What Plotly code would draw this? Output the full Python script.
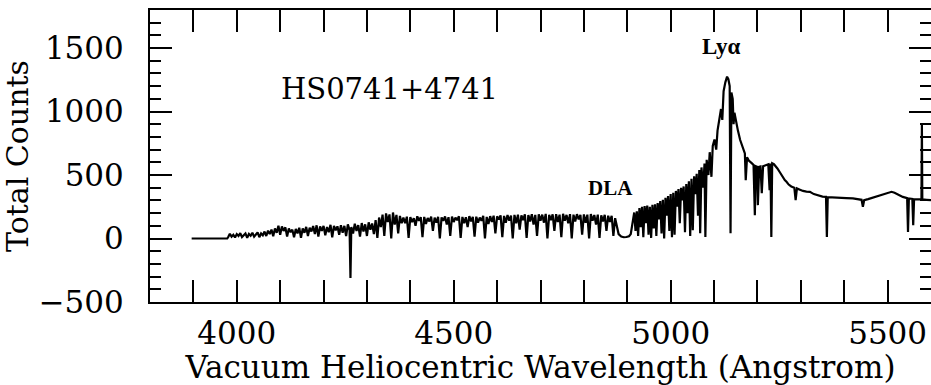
import plotly.graph_objects as go

# ---- Spectrum (wavelength in Angstrom, total counts) ----
WAVE_FLAT = [3896, 3978]
COUNTS_FLAT = [0, 0]

WAVE_BLUE = [
    3980, 3984, 3988, 3992, 3996, 4000, 4004, 4008, 4012, 4016, 4020, 4024, 4028, 4032, 4036, 4040,
    4044, 4048, 4052, 4056, 4060,
    4064, 4068, 4072, 4076, 4080, 4084, 4088, 4092, 4096, 4100,
    4104, 4108, 4112, 4116, 4120, 4124, 4128, 4132, 4136, 4140, 4144, 4148, 4152, 4156, 4160,
    4164, 4168, 4172, 4176, 4180, 4184, 4188, 4192, 4196, 4200, 4204, 4208, 4212, 4216, 4220, 4224,
    4228, 4232, 4236, 4240, 4244, 4248, 4252, 4256, 4260,
    4262,
    4264, 4268, 4272, 4276, 4280, 4284, 4288, 4292, 4296, 4300, 4304, 4308, 4312, 4316, 4320, 4324,
    4328, 4332, 4336, 4340, 4344, 4348, 4352, 4356, 4360, 4364, 4368, 4372, 4376, 4380,
]
COUNTS_BLUE = [
    10, 38, 15, 30, 8, 35, 20, 42, 12, 28, 40, 5, 36, 22, 45, 15,
    30, 48, 10, 40, 25,
    55, 20, 62, 35, 70, 18, 80, 45, 100, 30,
    95, 60, 88, 15, 80, 50, 70, 10, 75, 40, 85, 5, 80, 45, 92,
    20, 85, 55, 98, 35, 104, 15, 95, 60, 100, 25, 90, 50, 108, 10, 100,
    65, 96, 30, 105, 45, 100, 20, 112, 65,
    -310,
    90, 40, 116, 60, 105, 15, 122, 55, 112, 20, 128, 70, 118, 35, 145, 5,
    165, 90, 188, 20, 198, 130, 190, 0, 205, 110, 186, 40, 178, 120,
]

WAVE_FOREST = [
    4384, 4388, 4392, 4396, 4400, 4404, 4408, 4412, 4416, 4420,
    4424, 4428, 4432, 4436, 4440, 4444, 4448, 4452, 4456, 4460,
    4464, 4468, 4472, 4476, 4480, 4484, 4488, 4492, 4496, 4500,
    4504, 4508, 4512, 4516, 4520, 4524, 4528, 4532, 4536, 4540,
    4544, 4548, 4552, 4556, 4560, 4564, 4568, 4572, 4576, 4580,
    4584, 4588, 4592, 4596, 4600, 4604, 4608, 4612, 4616, 4620,
    4624, 4628, 4632, 4636, 4640, 4644, 4648, 4652, 4656, 4660,
    4664, 4668, 4672, 4676, 4680, 4684, 4688, 4692, 4696, 4700,
    4704, 4708, 4712, 4716, 4720, 4724, 4728, 4732, 4736, 4740,
    4744, 4748, 4752, 4756, 4760, 4764, 4768, 4772, 4776, 4780,
    4784, 4788, 4792, 4796, 4800, 4804, 4808, 4812, 4816, 4820,
    4824, 4828, 4832, 4836, 4840, 4844, 4848, 4852, 4856, 4860,
    4864, 4868, 4872, 4876, 4880,
]
COUNTS_FOREST = [
    165, 120, 172, 5, 168, 130, 160, 100, 175, 140,
    168, 10, 170, 115, 162, 135, 172, 60, 165, 125,
    170, 0, 166, 140, 174, 110, 168, 20, 172, 130,
    165, 145, 175, 5, 170, 120, 168, 90, 176, 135,
    170, 15, 172, 125, 165, 140, 178, 0, 170, 115,
    176, 130, 180, 40, 175, 150, 182, 10, 178, 125,
    185, 140, 180, 0, 186, 120, 188, 70, 182, 145,
    190, 5, 185, 135, 192, 110, 186, 20, 190, 140,
    188, 125, 194, 0, 186, 145, 190, 60, 192, 130,
    188, 10, 195, 140, 186, 120, 192, 0, 188, 135,
    192, 150, 186, 30, 190, 125, 188, 0, 192, 140,
    185, 110, 188, 5, 182, 135, 186, 60, 180, 130,
    178, 20, 160, 90, 35,
]

WAVE_DLA = [4886, 4892, 4898, 4904, 4908, 4912]
COUNTS_DLA = [15, 10, 12, 18, 35, 110]

WAVE_LYA = [
    4916, 4919, 4922, 4925, 4928, 4931, 4934, 4937, 4940, 4943, 4946, 4949, 4952, 4955, 4958, 4961,
    4964, 4967, 4970, 4973, 4976, 4979, 4982, 4985, 4988, 4991, 4994, 4997, 5000, 5003, 5006, 5009,
    5012, 5015, 5018, 5021, 5024, 5027, 5030, 5033, 5036, 5039, 5042, 5045, 5048, 5051, 5054, 5057,
    5060, 5063, 5066, 5068, 5071, 5075, 5078, 5080, 5083, 5087, 5090, 5094, 5097, 5101, 5105, 5108,
    5112, 5116, 5119, 5122, 5126, 5130, 5133, 5136, 5138, 5140, 5143, 5145, 5147, 5150, 5155, 5160,
    5165, 5171, 5173, 5176, 5180, 5184, 5188, 5191, 5194, 5196, 5199, 5201, 5204, 5207, 5210, 5213,
    5217, 5221, 5225, 5228, 5230, 5232, 5234, 5238, 5242, 5246, 5252, 5258, 5263, 5267, 5272, 5278,
    5285, 5288, 5291, 5298, 5305, 5313, 5321, 5330, 5340, 5350, 5358, 5360, 5362, 5375, 5390, 5405,
    5420, 5432, 5440, 5443, 5446, 5455, 5465, 5474, 5485, 5495, 5503, 5509, 5516, 5525, 5535, 5545,
    5547, 5549, 5557, 5559, 5561, 5570, 5578, 5579, 5580, 5590, 5600,
]
COUNTS_LYA = [
    205, 60, 215, 20, 240, 90, 250, 10, 255, 120, 260, 30, 250, 5, 265, 80,
    270, 20, 280, 150, 295, 40, 305, 0, 320, 180, 335, 60, 350, 10, 360, 30,
    375, 250, 390, 120, 400, 300, 410, 50, 430, 200, 450, 20, 470, 65, 490, 350,
    510, 180, 540, 42, 560, 400, 590, 13, 620, 500, 680, 486, 730, 780, 700, 850,
    930, 1020, 934, 1160, 1230, 1275, 1255, 1200, 42, 1150, 1100, 900, 990, 930, 850, 778,
    720, 671, 460, 640, 615, 605, 590, 580, 184, 570, 565, 263, 565, 568, 357, 570,
    575, 579, 585, 380, 590, 13, 592, 585, 570, 552, 520, 485, 460, 447, 425, 410,
    400, 302, 395, 385, 375, 370, 368, 350, 338, 330, 328, 13, 326, 322, 320, 318,
    316, 310, 305, 250, 302, 310, 320, 328, 340, 355, 362, 368, 360, 345, 328, 318,
    52, 315, 312, 105, 310, 308, 308, 894, 308, 305, 302,
]

X_TICKS = [4000, 4500, 5000, 5500]
Y_TICKS = [-500, 0, 500, 1000, 1500]
X_RANGE = [3800, 5600]
Y_RANGE = [-500, 1800]

LABEL_TEXT = ["HS0741+4741", "Lyα", "DLA"]
LABEL_X = [4351, 5118, 4862]
LABEL_Y = [1176, 1516, 401]

WAVELENGTH = WAVE_FLAT + WAVE_BLUE + WAVE_FOREST + WAVE_DLA + WAVE_LYA
COUNTS = COUNTS_FLAT + COUNTS_BLUE + COUNTS_FOREST + COUNTS_DLA + COUNTS_LYA

SERIF = "DejaVu Serif, serif"
BOLD_SERIF = "Liberation Serif, Times New Roman, serif"

fig = go.Figure()
fig.add_trace(go.Scatter(
    x=WAVELENGTH, y=COUNTS, mode="lines",
    line=dict(color="black", width=2.2),
    showlegend=False, hoverinfo="skip",
))
# invisible anchor so that the right-hand tick axis is drawn
fig.add_trace(go.Scatter(
    x=X_RANGE, y=Y_RANGE, yaxis="y2", mode="markers",
    marker=dict(opacity=0), showlegend=False, hoverinfo="skip",
))

fig.add_annotation(x=LABEL_X[0], y=LABEL_Y[0], text=LABEL_TEXT[0], showarrow=False,
                   font=dict(family=SERIF, size=29, color="black"))
fig.add_annotation(x=LABEL_X[1], y=LABEL_Y[1], text="<b>" + LABEL_TEXT[1] + "</b>", showarrow=False,
                   font=dict(family=BOLD_SERIF, size=23, color="black"))
fig.add_annotation(x=LABEL_X[2], y=LABEL_Y[2], text="<b>" + LABEL_TEXT[2] + "</b>", showarrow=False,
                   font=dict(family=BOLD_SERIF, size=21, color="black"))

tick_style = dict(ticks="inside", ticklen=22, tickwidth=2, tickcolor="black",
                  showgrid=False, zeroline=False)

fig.update_layout(
    width=931, height=385,
    margin=dict(l=150, r=0, t=10, b=83),
    paper_bgcolor="white", plot_bgcolor="white",
    xaxis=dict(
        range=X_RANGE, tickvals=X_TICKS, ticklabelstandoff=3,
        showline=True, linecolor="black", linewidth=2, mirror="allticks",
        tickfont=dict(family=SERIF, size=31, color="black"),
        minor=dict(dtick=100, ticks="inside", ticklen=12, tickwidth=2, tickcolor="black", showgrid=False),
        title=dict(text="Vacuum Heliocentric Wavelength (Angstrom)",
                   font=dict(family=SERIF, size=31, color="black"), standoff=3),
        **tick_style,
    ),
    yaxis=dict(
        range=Y_RANGE, tickvals=Y_TICKS, ticklabelstandoff=18,
        showline=True, linecolor="black", linewidth=2, mirror=False,
        tickfont=dict(family=SERIF, size=31, color="black"),
        minor=dict(dtick=100, ticks="inside", ticklen=11, tickwidth=2, tickcolor="black", showgrid=False),
        title=dict(text="Total Counts",
                   font=dict(family=SERIF, size=30, color="black"), standoff=10),
        **tick_style,
    ),
    # right-hand ticks only (the right frame edge lies outside the picture)
    yaxis2=dict(
        overlaying="y", side="right", range=Y_RANGE, tickvals=Y_TICKS,
        showline=False, showticklabels=False,
        minor=dict(dtick=100, ticks="inside", ticklen=11, tickwidth=2, tickcolor="black", showgrid=False),
        **tick_style,
    ),
)

fig.write_html("out.html")
